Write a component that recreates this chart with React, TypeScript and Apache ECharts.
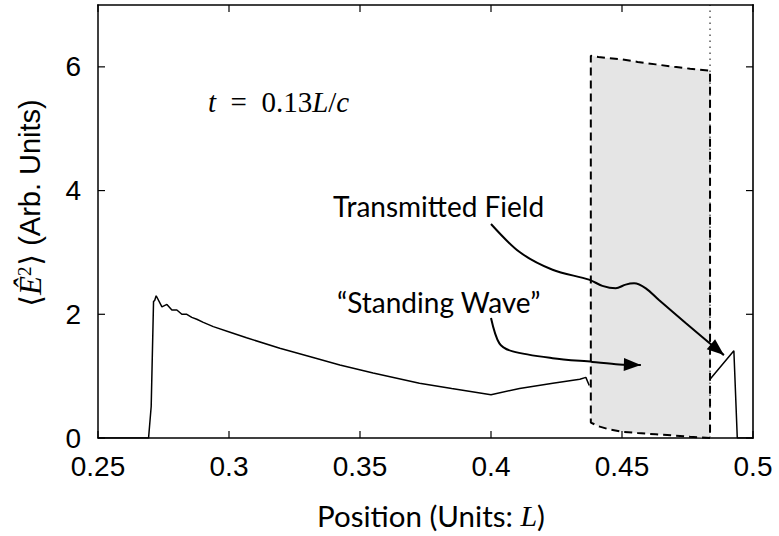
import React, { useEffect, useRef } from 'react';
import * as echarts from 'echarts';

// ---- Tick values ----
const xTicks = [0.25, 0.3, 0.35, 0.4, 0.45, 0.5];
const yTicks = [0, 2, 4, 6];

// ---- Field intensity (left of the slab) ----
const fieldX = [0.25, 0.2693, 0.2703, 0.2712, 0.2716, 0.2722, 0.2744, 0.2763, 0.2782, 0.2801, 0.282, 0.2839, 0.2858, 0.2877, 0.2902, 0.294, 0.3004, 0.3067, 0.3194, 0.3321, 0.3423, 0.355, 0.3727, 0.385, 0.4, 0.4109, 0.4236, 0.4339, 0.4362, 0.4375];
const fieldY = [0, 0, 0.51, 2.21, 2.22, 2.3, 2.12, 2.16, 2.07, 2.07, 2.0, 2.0, 1.95, 1.92, 1.87, 1.8, 1.71, 1.62, 1.45, 1.3, 1.18, 1.05, 0.885, 0.8, 0.7, 0.8, 0.885, 0.95, 0.98, 0.85];

// ---- Transmitted field (right of the slab) ----
const transX = [0.4836, 0.4927, 0.494, 0.5];
const transY = [0.95, 1.41, 0, 0];

// ---- Slab (shaded region) ----
const slabX = [0.4381, 0.441, 0.445, 0.4502, 0.456, 0.4629, 0.47, 0.476, 0.4836];
const slabTop = [6.18, 6.16, 6.14, 6.12, 6.08, 6.04, 6.0, 5.97, 5.94];
const slabBottom = [0.25, 0.19, 0.14, 0.1, 0.08, 0.06, 0.04, 0.02, 0.0];
const mirrorX = 0.4836;
const xMin = 0.25;
const xMax = 0.5;
const yMax = 7;

// ---- Annotation arrows (data coordinates) ----
const arrowTransX = [0.4, 0.4108, 0.4235, 0.4374, 0.4425, 0.4476, 0.4514, 0.4546, 0.4591, 0.4641, 0.4743, 0.4889];
const arrowTransY = [3.46, 3.01, 2.72, 2.56, 2.46, 2.42, 2.48, 2.5, 2.42, 2.23, 1.86, 1.34];
const arrowStandX = [0.4, 0.4032, 0.4083, 0.4235, 0.4387, 0.4489, 0.4572];
const arrowStandY = [1.94, 1.53, 1.4, 1.29, 1.23, 1.19, 1.18];

const zip = (xs: number[], ys: number[]) => xs.map((x, i) => [x, ys[i]]);

const slabOutline = (() => {
  const n = slabX.length;
  const pts: number[][] = [];
  for (let i = n - 1; i >= 0; i--) pts.push([slabX[i], slabBottom[i]]);
  for (let i = 0; i < n; i++) pts.push([slabX[i], slabTop[i]]);
  pts.push([slabX[n - 1], slabBottom[n - 1]]);
  return pts;
})();

const fmtX = (v: number) => String(Number(v.toFixed(2)));

// Frame edges and inward tick marks, each drawn as a thin filled polygon
type Mark = { kind: string; v: number };
const frameMarks: Mark[] = [
  { kind: 'top', v: 0 },
  { kind: 'right', v: 0 },
  ...xTicks.map((v) => ({ kind: 'xb', v })),
  ...xTicks.map((v) => ({ kind: 'xt', v })),
  ...yTicks.map((v) => ({ kind: 'yl', v })),
  ...yTicks.map((v) => ({ kind: 'yr', v })),
];

const rectPoly = (x0: number, y0: number, x1: number, y1: number) => ({
  type: 'polygon',
  shape: { points: [[x0, y0], [x1, y0], [x1, y1], [x0, y1]] },
  style: { fill: '#000' },
});

const frameSeries = {
  type: 'custom',
  z: 6,
  silent: true,
  data: frameMarks.map(() => [xMin, 0]),
  renderItem: (params: any, api: any) => {
    const m = frameMarks[params.dataIndex];
    const T = 7;
    const bw = 0.8;
    const tw = 0.6;
    if (m.kind === 'top') {
      const a = api.coord([xMin, yMax]);
      const b = api.coord([xMax, yMax]);
      return rectPoly(a[0] - bw, a[1] - bw, b[0] + bw, b[1] + bw);
    }
    if (m.kind === 'right') {
      const a = api.coord([xMax, yMax]);
      const b = api.coord([xMax, 0]);
      return rectPoly(a[0] - bw, a[1] - bw, b[0] + bw, b[1] + bw);
    }
    if (m.kind === 'xb') {
      const p = api.coord([m.v, 0]);
      return rectPoly(p[0] - tw, p[1], p[0] + tw, p[1] - T);
    }
    if (m.kind === 'xt') {
      const p = api.coord([m.v, yMax]);
      return rectPoly(p[0] - tw, p[1], p[0] + tw, p[1] + T);
    }
    if (m.kind === 'yl') {
      const p = api.coord([xMin, m.v]);
      return rectPoly(p[0], p[1] - tw, p[0] + T, p[1] + tw);
    }
    const p = api.coord([xMax, m.v]);
    return rectPoly(p[0] - T, p[1] - tw, p[0], p[1] + tw);
  },
};

const arrowHead = (xs: number[], ys: number[]) => ({
  type: 'custom',
  data: [[xs[xs.length - 1], ys[ys.length - 1]]],
  z: 6,
  silent: true,
  renderItem: (_p: any, api: any) => {
    const n = xs.length;
    const tip = api.coord([xs[n - 1], ys[n - 1]]);
    const prev = api.coord([xs[n - 2], ys[n - 2]]);
    let dx = tip[0] - prev[0];
    let dy = tip[1] - prev[1];
    const len = Math.sqrt(dx * dx + dy * dy) || 1;
    dx /= len; dy /= len;
    const L = 17, W = 6.5;
    const bx = tip[0] - dx * L, by = tip[1] - dy * L;
    return {
      type: 'polygon',
      shape: { points: [[tip[0], tip[1]], [bx - dy * W, by + dx * W], [bx + dy * W, by - dx * W]] },
      style: { fill: '#000' },
    };
  },
});

export default function App() {
  const ref = useRef<HTMLDivElement>(null);
  useEffect(() => {
    document.body.style.margin = '0';
    if (!ref.current) return;
    const chart = echarts.init(ref.current, undefined, { renderer: 'svg' });
    const sans = 'Liberation Sans, Arial, sans-serif';
    const cmSans = 'Lato, Open Sans, sans-serif';
    const serif = 'Liberation Serif, DejaVu Serif, serif';
    chart.setOption({
      animation: false,
      grid: { left: 98, right: 26, top: 5, bottom: 98 },
      xAxis: {
        type: 'value',
        min: xMin,
        max: xMax,
        interval: 0.05,
        splitLine: { show: false },
        axisLine: { show: true, onZero: false, lineStyle: { color: '#000', width: 1.5 } },
        axisTick: { show: false },
        axisLabel: { formatter: fmtX, fontFamily: sans, fontSize: 28, color: '#000', margin: 14 },
      },
      yAxis: {
        type: 'value',
        min: 0,
        max: yMax,
        interval: 2,
        splitLine: { show: false },
        axisLine: { show: true, onZero: false, lineStyle: { color: '#000', width: 1.5 } },
        axisTick: { show: false },
        axisLabel: { customValues: yTicks, fontFamily: sans, fontSize: 28, color: '#000', margin: 17 },
      },
      series: [
        {
          type: 'custom',
          z: 1,
          silent: true,
          data: [[slabX[0], slabTop[0]]],
          renderItem: (_p: any, api: any) => ({
            type: 'polygon',
            shape: { points: slabOutline.map((p) => { const c = api.coord(p); return [c[0], c[1]]; }) },
            style: { fill: '#e5e5e5' },
          }),
        },
        {
          type: 'line',
          z: 2,
          data: [[mirrorX, 0], [mirrorX, yMax]],
          symbol: 'none',
          lineStyle: { color: '#555', width: 1.5, type: [1.5, 4.5] },
        },
        {
          type: 'line',
          z: 3,
          data: slabOutline,
          symbol: 'none',
          lineStyle: { color: '#000', width: 2, type: [8, 5] },
        },
        { type: 'line', z: 4, data: zip(fieldX, fieldY), symbol: 'none', lineStyle: { color: '#000', width: 1.5 } },
        { type: 'line', z: 4, data: zip(transX, transY), symbol: 'none', lineStyle: { color: '#000', width: 1.5 } },
        { type: 'line', z: 5, data: zip(arrowTransX, arrowTransY), symbol: 'none', smooth: 0.3, lineStyle: { color: '#000', width: 2 } },
        { type: 'line', z: 5, data: zip(arrowStandX, arrowStandY), symbol: 'none', smooth: 0.3, lineStyle: { color: '#000', width: 2 } },
        arrowHead(arrowTransX, arrowTransY),
        arrowHead(arrowStandX, arrowStandY),
        frameSeries,
      ],
      graphic: [
        {
          type: 'text',
          x: 208,
          y: 102,
          style: {
            text: '{i|t}\u2002=\u20020.13{i|L}/{i|c}',
            fontFamily: serif,
            fontSize: 29,
            fill: '#000',
            textVerticalAlign: 'middle',
            rich: { i: { fontFamily: serif, fontStyle: 'italic', fontSize: 29 } },
          },
        },
        {
          type: 'text',
          x: 333,
          y: 206,
          style: { text: 'Transmitted Field', fontFamily: cmSans, fontSize: 28, fill: '#000', textVerticalAlign: 'middle' },
        },
        {
          type: 'text',
          x: 337,
          y: 302,
          style: { text: '\u201CStanding Wave\u201D', fontFamily: cmSans, fontSize: 28, fill: '#000', textVerticalAlign: 'middle' },
        },
        {
          type: 'text',
          x: 431,
          y: 515,
          style: {
            text: 'Position (Units: {i|L})',
            fontFamily: cmSans,
            fontSize: 29.5,
            fill: '#000',
            textAlign: 'center',
            textVerticalAlign: 'middle',
            rich: { i: { fontFamily: serif, fontStyle: 'italic', fontSize: 30 } },
          },
        },
        {
          type: 'text',
          x: 30,
          y: 203,
          rotation: Math.PI / 2,
          style: {
            text: '{m|\u27E8}{e|\u00CA}{s|2}{m|\u27E9} (Arb. Units)',
            fontFamily: sans,
            fontSize: 29,
            fill: '#000',
            textAlign: 'center',
            textVerticalAlign: 'middle',
            rich: {
              m: { fontFamily: 'DejaVu Serif, serif', fontSize: 30 },
              e: { fontFamily: serif, fontStyle: 'italic', fontSize: 31 },
              s: { fontFamily: serif, fontSize: 19, verticalAlign: 'top', padding: [0, 1, 12, 0] },
            },
          },
        },
      ],
    });
    return () => chart.dispose();
  }, []);
  return <div ref={ref} style={{ width: 779, height: 536 }} />;
}
